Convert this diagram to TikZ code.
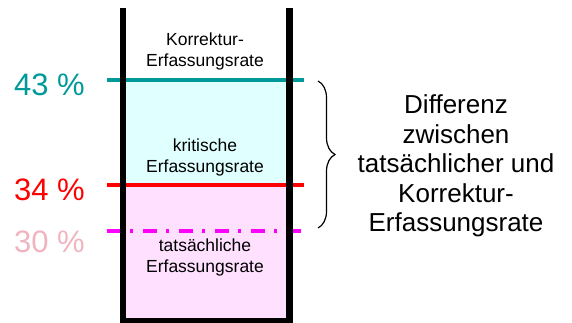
\documentclass[tikz,border=0pt]{standalone}
\usepackage{fontspec}
\setmainfont{Liberation Sans}
\usetikzlibrary{decorations.pathreplacing}
\definecolor{tealc}{RGB}{0,153,153}
\definecolor{redc}{RGB}{255,0,0}
\definecolor{magc}{RGB}{255,0,255}
\definecolor{pinktext}{RGB}{240,180,192}
\definecolor{cyanfill}{RGB}{224,255,255}
\definecolor{pinkfill}{RGB}{255,224,255}
\tikzset{
  level/.style={line width=3.2pt},
  pct/.style={font=\fontsize{31}{34}\selectfont, inner sep=0pt},
  inlabel/.style={font=\fontsize{17.5}{21}\selectfont, align=center, inner sep=0pt},
  sidelabel/.style={font=\fontsize{26}{29.5}\selectfont, align=center, inner sep=0pt},
  wall/.style={line width=6.5pt, line join=miter}
}
\begin{document}
\begin{tikzpicture}[x=1pt,y=-1pt]
\useasboundingbox (0,0) rectangle (572,323);
% fills
\fill[cyanfill] (123,80) rectangle (289.5,185);
\fill[pinkfill] (123,185) rectangle (289.5,320);
% level lines
\coordinate (l43) at (107,80);  \coordinate (r43) at (304,80);
\coordinate (l34) at (107,185); \coordinate (r34) at (304,185);
\coordinate (l30) at (107,231); \coordinate (r30) at (304,231);
\draw[level, tealc] (l43) -- (r43);
\draw[level, redc] (l34) -- (r34);
\draw[level, magc, dash pattern=on 14pt off 9pt on 3pt off 10pt] (l30) -- (r30);
% container
\coordinate (tl) at (123,8); \coordinate (bl) at (123,321.5);
\coordinate (br) at (289.5,321.5); \coordinate (tr) at (289.5,8);
\draw[wall] (tl) -- (bl) -- (br) -- (tr);
% percentage labels
\node[pct, text=tealc] (p43) at (49.5,85) {43 \%};
\node[pct, text=redc] (p34) at (49.5,190) {34 \%};
\node[pct, text=pinktext] (p30) at (49.5,242) {30 \%};
% inner labels
\node[inlabel] (korr) at (205,51) {Korrektur-\\Erfassungsrate};
\node[inlabel] (krit) at (205,157) {kritische\\Erfassungsrate};
\node[inlabel] (tats) at (205,257) {tatsächliche\\Erfassungsrate};
% brace
\coordinate (bt) at (318,81); \coordinate (bb) at (318,228);
\draw[line width=1.2pt, decorate, decoration={brace, amplitude=17pt}] (bt) -- (bb);
% side label
\node[sidelabel] (diff) at (456,166) {Differenz\\zwischen\\tatsächlicher und\\Korrektur-\\Erfassungsrate};
\end{tikzpicture}
\end{document}
